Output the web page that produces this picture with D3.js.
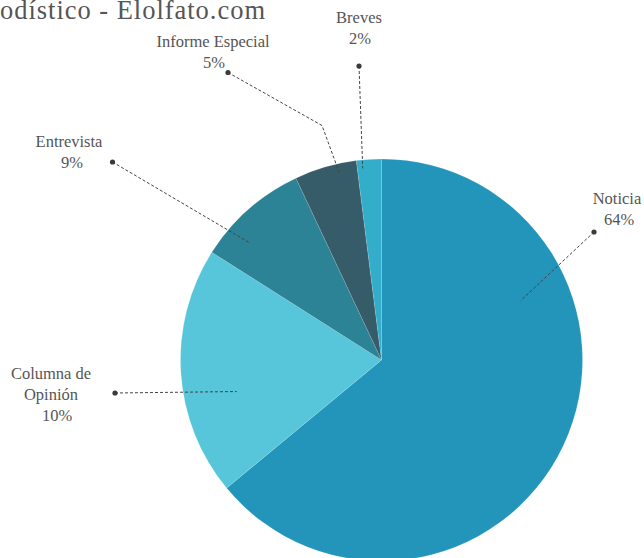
<!DOCTYPE html>
<html>
<head>
<meta charset="utf-8">
<script src="https://cdn.jsdelivr.net/npm/d3@7/dist/d3.min.js"></script>
<style>
  html, body { margin: 0; padding: 0; background: #fff; overflow: hidden; }
  svg { display: block; }
  text { font-family: "Liberation Serif", "DejaVu Serif", serif; fill: #555; }
</style>
</head>
<body>
<svg id="chart" width="644" height="558"></svg>
<script>
// ---- data ----
const categories = ["Noticia", "Columna de Opinión", "Entrevista", "Informe Especial", "Breves"];
const values = [64, 20, 9, 5, 2];
const percentLabels = ["64%", "10%", "9%", "5%", "2%"];
const colors = ["#2394BA", "#57C6DA", "#2D8396", "#365B69", "#34ADCB"];
const titleText = "Género periodístico - Elolfato.com";
const titleVisible = "odístico - Elolfato.com";

// ---- layout (label annotations) ----
const labelLines = [["Noticia"], ["Columna de", "Opinión"], ["Entrevista"], ["Informe Especial"], ["Breves"]];
const labelPos = [[617, 204], [51, 379], [69, 147], [213, 47], [359, 23]];   // first line baseline, centre
const pctDx = [2, 6, 3, 1, 1];
const dotPos = [[594, 232], [115, 393], [112.5, 162], [228, 72.5], [359, 66]];
const elbowPos = [null, null, null, [322, 125.5], null];
const innerEnd = [[66.9, 0.753], [257.7, 0.737], [311.6, 0.879], [347.3, 0.955], [354.4, 0.958]]; // [angleDeg, radiusFrac]

const W = 644, H = 558;
const cx = 381.5, cy = 360, R = 201;
const svg = d3.select("#chart");

// title (partly clipped on the left as in the reference)
const titleSize = "26.5px", titleRight = 265;
const probe = svg.append("text").style("font-size", titleSize).text(titleVisible);
const visW = probe.node().getComputedTextLength();
probe.remove();
const ls = Math.max(0, (titleRight - visW) / (titleVisible.length - 1));
svg.append("text")
  .attr("x", titleRight + ls).attr("y", 19)
  .attr("text-anchor", "end")
  .style("font-size", titleSize)
  .style("letter-spacing", ls + "px")
  .text(titleText);

const pie = d3.pie().sort(null).value(d => d)(values);
const arc = d3.arc().innerRadius(0).outerRadius(R);

const g = svg.append("g").attr("transform", `translate(${cx},${cy})`);
g.selectAll("path.slice")
  .data(pie)
  .join("path")
  .attr("class", "slice")
  .attr("d", arc)
  .attr("fill", (d, i) => colors[i])
  .attr("stroke", "rgba(255,255,255,0.2)")
  .attr("stroke-width", 0.6);

// connectors
function polar(angDeg, rf) {
  const a = angDeg * Math.PI / 180;
  return [cx + Math.sin(a) * rf * R, cy - Math.cos(a) * rf * R];
}
const line = d3.line();
categories.forEach((c, i) => {
  const pts = [dotPos[i]];
  if (elbowPos[i]) pts.push(elbowPos[i]);
  pts.push(polar(innerEnd[i][0], innerEnd[i][1]));
  svg.append("path")
    .attr("d", line(pts))
    .attr("fill", "none")
    .attr("stroke", "#444")
    .attr("stroke-width", 1)
    .attr("stroke-dasharray", "3,2");
  svg.append("circle")
    .attr("cx", dotPos[i][0]).attr("cy", dotPos[i][1])
    .attr("r", 2.6).attr("fill", "#3a3a3a");

  const t = svg.append("text")
    .attr("text-anchor", "middle")
    .style("font-size", "16.5px");
  const lines = labelLines[i];
  lines.forEach((ln, k) => {
    t.append("tspan").attr("x", labelPos[i][0]).attr("y", labelPos[i][1] + k * 20.6).text(ln);
  });
  t.append("tspan")
    .attr("x", labelPos[i][0] + pctDx[i])
    .attr("y", labelPos[i][1] + lines.length * 20.6 + 0.5)
    .text(percentLabels[i]);
});
</script>
</body>
</html>
